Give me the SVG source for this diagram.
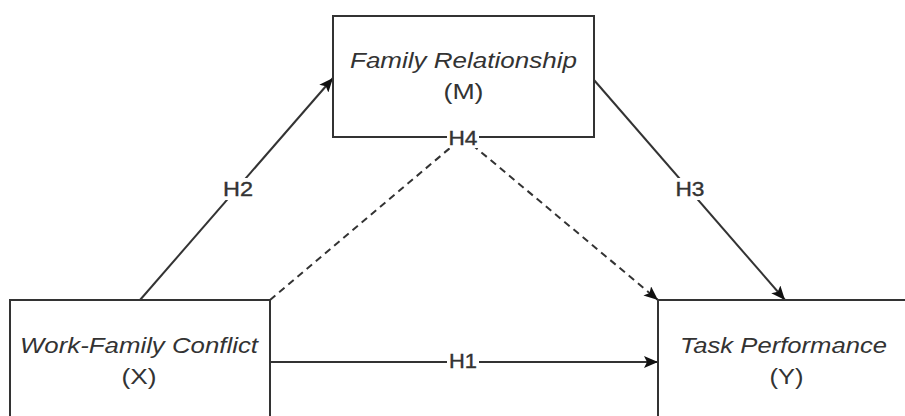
<svg xmlns="http://www.w3.org/2000/svg" width="905" height="416" viewBox="0 0 905 416">
<defs>
<style>
.box{fill:#fff;stroke:#333;stroke-width:2}
.edge{fill:none;stroke:#333;stroke-width:2}
.dash{stroke-dasharray:7 5}
.t{font-family:"Liberation Sans",Arial,sans-serif;fill:#333;text-anchor:middle}
.it{font-style:italic;font-size:22px}
.nm{font-size:22px}
.lb{font-size:21px;stroke:#333;stroke-width:0.4}
.lbg{fill:#fff}
</style>
<marker id="arr" viewBox="0 0 14 12" refX="14" refY="6" markerWidth="14" markerHeight="12" markerUnits="userSpaceOnUse" orient="auto">
<path d="M0,0 L14,6 L0,12 L3,6 Z" fill="#111"/>
</marker>
</defs>
<rect width="905" height="416" fill="#fff"/>
<g id="connectors">
<path id="e-h2" class="edge" d="M140,300 L333,78" marker-end="url(#arr)"/>
<path id="e-h3" class="edge" d="M594,80 L785,300" marker-end="url(#arr)"/>
<path id="e-h1" class="edge" d="M270,362 L658,362" marker-end="url(#arr)"/>
<path id="e-h4a" class="edge dash" d="M270,300 L463,137"/>
<path id="e-h4b" class="edge dash" d="M463,137 L658,300" marker-end="url(#arr)"/>
<rect class="lbg" x="222" y="178" width="32" height="22"/>
<text class="t lb" x="238" y="196" textLength="30" lengthAdjust="spacingAndGlyphs">H2</text>
<rect class="lbg" x="674" y="178" width="32" height="22"/>
<text class="t lb" x="690" y="196" textLength="29" lengthAdjust="spacingAndGlyphs">H3</text>
<rect class="lbg" x="447" y="351" width="32" height="20"/>
<text class="t lb" x="463" y="368" textLength="28" lengthAdjust="spacingAndGlyphs">H1</text>
</g>
<g id="node-m">
<rect class="box" x="333" y="16" width="261" height="121"/>
<text class="t it" x="463.5" y="68" textLength="227" lengthAdjust="spacingAndGlyphs">Family Relationship</text>
<text class="t nm" x="463.5" y="99" textLength="40" lengthAdjust="spacingAndGlyphs">(M)</text>
</g>
<g id="label-h4">
<rect class="lbg" x="447" y="128" width="32" height="20"/>
<text class="t lb" x="463" y="145" textLength="29" lengthAdjust="spacingAndGlyphs">H4</text>
</g>
<g id="node-x">
<rect class="box" x="10" y="300" width="260" height="130"/>
<text class="t it" x="139" y="353" textLength="238" lengthAdjust="spacingAndGlyphs">Work-Family Conflict</text>
<text class="t nm" x="139" y="384" textLength="35" lengthAdjust="spacingAndGlyphs">(X)</text>
</g>
<g id="node-y">
<rect class="box" x="658" y="300" width="260" height="130"/>
<text class="t it" x="783.5" y="353" textLength="207" lengthAdjust="spacingAndGlyphs">Task Performance</text>
<text class="t nm" x="786.5" y="384" textLength="34" lengthAdjust="spacingAndGlyphs">(Y)</text>
</g>
</svg>
